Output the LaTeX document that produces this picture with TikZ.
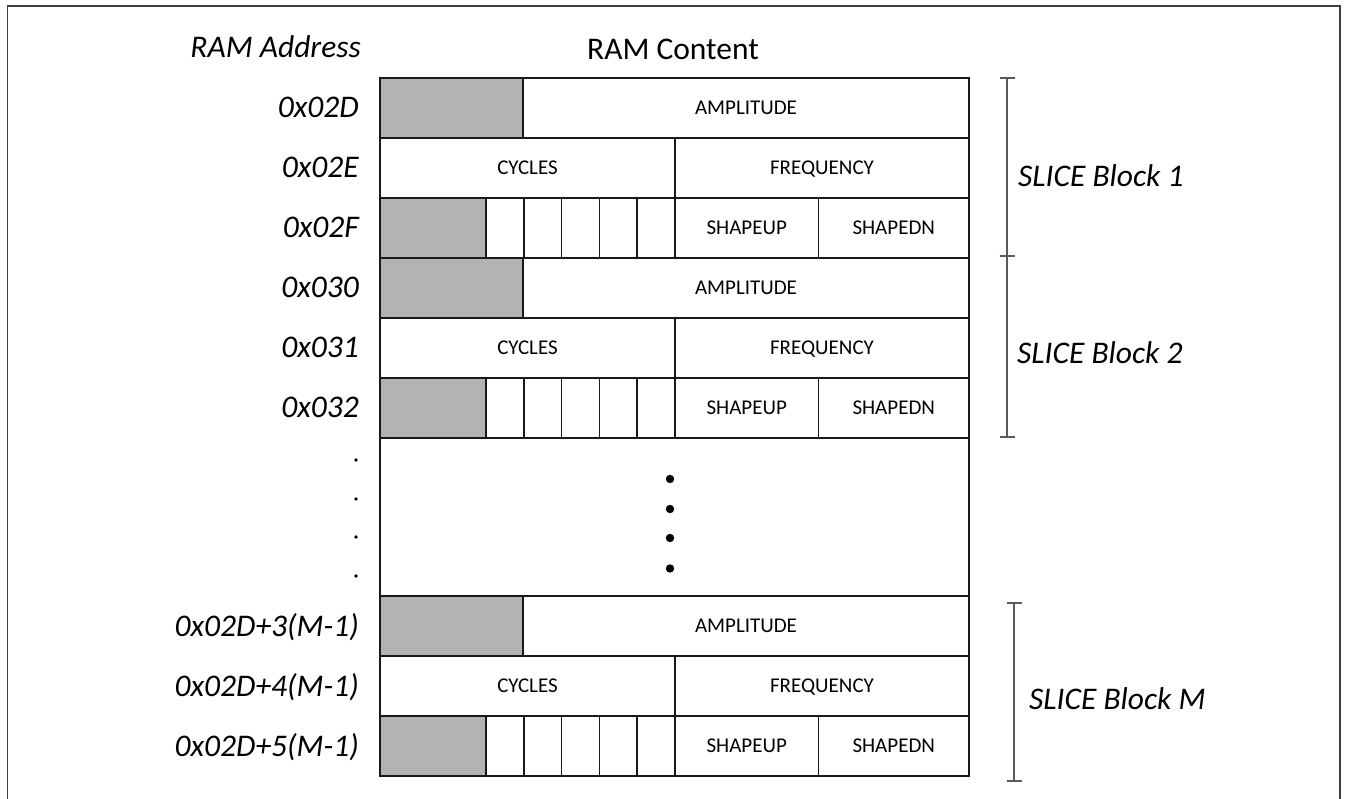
\documentclass[tikz,border=0pt]{standalone}
\usepackage{fontspec}
\setmainfont{Carlito}
\definecolor{cellgray}{RGB}{179,179,179}
\definecolor{framegray}{RGB}{64,64,64}
\definecolor{bargray}{RGB}{90,90,90}
\begin{document}
\begin{tikzpicture}[x=1pt,y=-1pt,
  cellline/.style={draw=black!90, line width=1.3pt},
  grayfill/.style={fill=cellgray},
  lbl/.style={font=\fontsize{21}{24}\selectfont, inner sep=0pt, anchor=base},
  addr/.style={font=\fontsize{31.5}{36}\selectfont\itshape, inner sep=0pt, anchor=base east},
  title/.style={font=\fontsize{31.5}{36}\selectfont, inner sep=0pt},
  blocklbl/.style={font=\fontsize{31.5}{36}\selectfont\itshape, inner sep=0pt, anchor=base west},
  bracketline/.style={draw=bargray, line width=1.5pt},
  bigdot/.style={fill=black, draw=none},
  smalldot/.style={fill=black, draw=none}]

\useasboundingbox (0,0) rectangle (1350,799);

% outer frame (open at the bottom)
\draw[draw=framegray, line width=1.8pt] (7.5,799) -- (7.5,6) -- (1340,6) -- (1340,799);

% column titles
\node[title, font=\fontsize{31.5}{36}\selectfont\itshape, anchor=base east] (hdraddr) at (361,58) {RAM Address};
\node[title, anchor=base west] (hdrcont) at (587,60) {RAM Content};

% three-word slice blocks
\foreach \T/\n in {78/1, 258/2, 596/M}{
  % word 0: amplitude
  \draw[cellline, grayfill] (380,\T) rectangle (523,\T+60);
  \draw[cellline] (523,\T) rectangle (969,\T+60);
  \node[lbl] (amp\n) at (746,\T+36.8) {AMPLITUDE};
  % word 1: cycles / frequency
  \draw[cellline] (380,\T+60) rectangle (675,\T+120);
  \draw[cellline] (675,\T+60) rectangle (969,\T+120);
  \node[lbl] (cyc\n) at (527.5,\T+96.8) {CYCLES};
  \node[lbl] (frq\n) at (822,\T+96.8) {FREQUENCY};
  % word 2: reserved bits, flags, shapes
  \draw[cellline, grayfill] (380,\T+120) rectangle (486,\T+180);
  \foreach \a/\b in {486/524, 524/561.5, 561.5/599.5, 599.5/637, 637/675}
    \draw[cellline] (\a,\T+120) rectangle (\b,\T+180);
  \draw[cellline] (675,\T+120) rectangle (818.5,\T+180);
  \draw[cellline] (818.5,\T+120) rectangle (969,\T+180);
  \node[lbl] (shu\n) at (746.75,\T+156.8) {SHAPEUP};
  \node[lbl] (shd\n) at (893.75,\T+156.8) {SHAPEDN};
}

% elided region between block 2 and block M
\draw[cellline] (380,438) rectangle (969,596);
\foreach \y in {479,509,538,568.5}
  \fill[bigdot] (670,\y) circle (4.2);
\foreach \y in {460,499,537,576}
  \fill[smalldot] (356,\y) circle (1.8);

% addresses
\foreach \y/\t [count=\i] in {108/0x02D, 168/0x02E, 228/0x02F, 288/0x030, 348/0x031, 408/0x032,
  626/0x02D+3(M-1), 686/0x02D+4(M-1), 746/0x02D+5(M-1)}
  \node[addr] (addr\i) at (359,\y+10) {\t};

% slice block brackets
\coordinate (b1t) at (1007,78);
\coordinate (b1b) at (1007,256);
\coordinate (b2t) at (1007,256);
\coordinate (b2b) at (1007,437);
\coordinate (bMt) at (1014,603);
\coordinate (bMb) at (1014,781);
\foreach \p/\q in {b1t/b1b, b2t/b2b, bMt/bMb}{
  \draw[bracketline] (\p) -- (\q);
  \draw[bracketline] ([xshift=-7.5pt]\p) -- ([xshift=7.5pt]\p);
  \draw[bracketline] ([xshift=-7.5pt]\q) -- ([xshift=7.5pt]\q);
}
\node[blocklbl] (blk1) at (1018,187) {SLICE Block 1};
\node[blocklbl] (blk2) at (1017,364) {SLICE Block 2};
\node[blocklbl] (blkM) at (1029,709) {SLICE Block M};

\end{tikzpicture}
\end{document}
